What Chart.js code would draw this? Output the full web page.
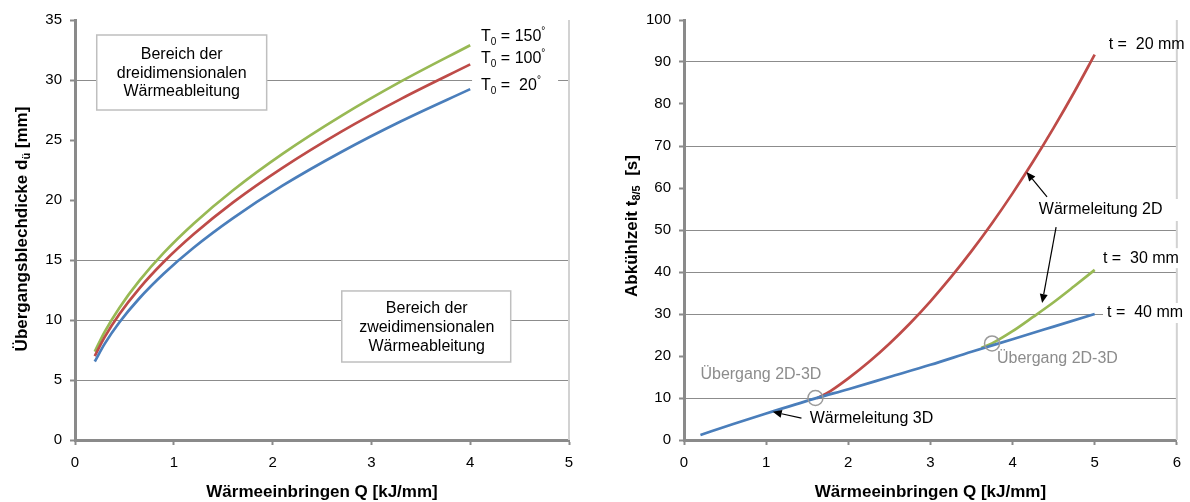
<!DOCTYPE html>
<html>
<head>
<meta charset="utf-8">
<script src="https://cdn.jsdelivr.net/npm/chart.js@4.4.1/dist/chart.umd.min.js"></script>
<style>
  html, body { margin: 0; padding: 0; background: #ffffff; }
  #wrap { position: relative; width: 1190px; height: 502px; }
  #c1 { position: absolute; left: 0; top: 0; }
  #c2 { position: absolute; left: 600px; top: 0; }
</style>
</head>
<body>
<div id="wrap">
  <canvas id="c1" width="600" height="502"></canvas>
  <canvas id="c2" width="590" height="502"></canvas>
</div>
<script>
// ---- Übergangsblechdicke über Wärmeeinbringen (left chart) ----
const qTransition = [0.2, 0.3, 0.45, 0.65, 0.9, 1.2, 1.6, 2.1, 2.7, 3.3, 4.0];
const dT20  = [6.54, 8.01, 9.81, 11.79, 13.87, 16.02, 18.49, 21.19, 24.02, 26.56, 29.24];
const dT100 = [6.99, 8.57, 10.50, 12.62, 14.85, 17.14, 19.80, 22.68, 25.72, 28.43, 31.30];
const dT150 = [7.36, 9.01, 11.03, 13.26, 15.61, 18.02, 20.81, 23.84, 27.03, 29.88, 32.90];

const leftXTicks = [0, 1, 2, 3, 4, 5];
const leftYTicks = [0, 5, 10, 15, 20, 25, 30, 35];
const leftGridAt = [5, 10, 15, 30];

// ---- Abkühlzeit t8/5 über Wärmeeinbringen (right chart) ----
const q40 = [0.2, 0.6, 1.0, 1.6, 2.0, 2.5, 3.0, 3.5, 4.0, 4.5, 5.0];
const t40 = [1.2, 3.8, 6.3, 9.9, 12.1, 15.0, 17.9, 21.0, 24.0, 27.0, 30.0];
const q20 = [1.62, 1.8, 2.0, 2.25, 2.5, 2.75, 3.0, 3.25, 3.5, 3.75, 4.0, 4.25, 4.5, 4.75, 5.0];
const t20 = [9.9, 11.89, 14.68, 18.58, 22.94, 27.75, 33.03, 38.76, 44.96, 51.61, 58.72, 66.29, 74.32, 82.80, 91.75];
const q30 = [3.62, 3.75, 4.0, 4.25, 4.5, 4.75, 5.0];
const t30 = [21.9, 23.0, 25.9, 29.3, 32.8, 36.6, 40.5];

const rightXTicks = [0, 1, 2, 3, 4, 5, 6];
const rightYTicks = [0, 10, 20, 30, 40, 50, 60, 70, 80, 90, 100];
const rightGridAt = [10, 30, 40, 50, 70, 90];

const BLUE = '#4a7ebb', RED = '#be4b48', GREEN = '#98b954';
const AXIS = '#8a8a8a', GRID = '#8c8c8c';
const FONT = '"Liberation Sans", Arial, Helvetica, sans-serif';

const toPoints = (xs, ys) => xs.map((x, i) => ({ x, y: ys[i] }));

function setFont(ctx, size, bold) {
  ctx.font = (bold ? 'bold ' : '') + size + 'px ' + FONT;
}

// draws a sequence of text runs (normal / subscript / superscript)
function drawRuns(ctx, x, y, runs, size, bold, align, color) {
  const pcs = runs.map(r => ({
    t: r.t,
    size: (r.sub || r.sup) ? Math.round(size * 0.62) : size,
    dy: r.sub ? size * 0.3 : (r.sup ? -size * 0.38 : 0)
  }));
  let w = 0;
  pcs.forEach(p => { setFont(ctx, p.size, bold); p.w = ctx.measureText(p.t).width; w += p.w; });
  let cx = align === 'center' ? x - w / 2 : (align === 'right' ? x - w : x);
  ctx.fillStyle = color;
  ctx.textAlign = 'left';
  ctx.textBaseline = 'middle';
  pcs.forEach(p => { setFont(ctx, p.size, bold); ctx.fillText(p.t, cx, y + p.dy); cx += p.w; });
  return w;
}

function arrow(ctx, x0, y0, x1, y1) {
  const ang = Math.atan2(y1 - y0, x1 - x0);
  const head = 9, half = 4;
  const bx = x1 - head * Math.cos(ang), by = y1 - head * Math.sin(ang);
  ctx.strokeStyle = '#000'; ctx.fillStyle = '#000'; ctx.lineWidth = 1.2;
  ctx.beginPath(); ctx.moveTo(x0, y0); ctx.lineTo(bx, by); ctx.stroke();
  ctx.beginPath();
  ctx.moveTo(x1, y1);
  ctx.lineTo(bx + half * Math.sin(ang), by - half * Math.cos(ang));
  ctx.lineTo(bx - half * Math.sin(ang), by + half * Math.cos(ang));
  ctx.closePath(); ctx.fill();
}

// annotation layer: frame line, boxes, labels, arrows, markers, axis titles
const notesPlugin = {
  id: 'notes',
  beforeDatasetsDraw(chart) {
    const { ctx, chartArea: a } = chart;
    ctx.save();
    ctx.strokeStyle = '#d2d2d2'; ctx.lineWidth = 2;
    ctx.beginPath(); ctx.moveTo(a.right, a.top); ctx.lineTo(a.right, a.bottom); ctx.stroke();
    ctx.restore();
  },
  afterDatasetsDraw(chart, args, opts) {
    const { ctx } = chart;
    const sx = v => chart.scales.x.getPixelForValue(v);
    const sy = v => chart.scales.y.getPixelForValue(v);
    ctx.save();
    (opts.items || []).forEach(it => {
      if (it.kind === 'box') {
        const x0 = sx(it.x0), x1 = sx(it.x1), y0 = sy(it.y1), y1 = sy(it.y0);
        ctx.fillStyle = '#fff'; ctx.fillRect(x0, y0, x1 - x0, y1 - y0);
        ctx.strokeStyle = '#bfbfbf'; ctx.lineWidth = 1.5;
        ctx.strokeRect(x0, y0, x1 - x0, y1 - y0);
        it.lines.forEach((ln, i) => drawRuns(ctx, sx(it.cx), sy(it.ly[i]), [{ t: ln }], 16, false, 'center', '#000'));
      } else if (it.kind === 'text') {
        const x = sx(it.x), y = sy(it.y);
        if (it.bg) {
          ctx.fillStyle = '#fff';
          ctx.fillRect(x - it.bg[0], y - it.bg[1], it.bg[2], it.bg[1] * 2);
        }
        drawRuns(ctx, x, y, it.runs, 16, false, 'left', it.color || '#000');
      } else if (it.kind === 'arrow') {
        arrow(ctx, sx(it.from[0]), sy(it.from[1]), sx(it.to[0]), sy(it.to[1]));
      } else if (it.kind === 'ring') {
        ctx.strokeStyle = '#9a9a9a'; ctx.lineWidth = 1.5;
        ctx.beginPath(); ctx.arc(sx(it.at[0]), sy(it.at[1]), 7.5, 0, Math.PI * 2); ctx.stroke();
      }
    });
    ctx.restore();
  },
  afterDraw(chart, args, opts) {
    const { ctx, chartArea: a } = chart;
    ctx.save();
    drawRuns(ctx, (a.left + a.right) / 2, 492, opts.xTitle, 17, true, 'center', '#000');
    ctx.translate(opts.yTitleX, opts.yTitleY);
    ctx.rotate(-Math.PI / 2);
    drawRuns(ctx, 0, 0, opts.yTitle, 17, true, 'center', '#000');
    ctx.restore();
  }
};

function lineSet(label, pts, color) {
  return {
    label, data: pts, borderColor: color, backgroundColor: color,
    borderWidth: 2.7, pointRadius: 0, fill: false, showLine: true,
    cubicInterpolationMode: 'monotone'
  };
}

function scales(xTicks, yTicks, gridAt, yWidth) {
  const tickFont = { family: FONT, size: 15 };
  return {
    x: {
      type: 'linear', min: xTicks[0], max: xTicks[xTicks.length - 1],
      afterBuildTicks: s => { s.ticks = xTicks.map(v => ({ value: v })); },
      afterFit: s => { s.height = 62; },
      grid: { drawOnChartArea: false, drawTicks: true, tickLength: 5, tickColor: AXIS, tickWidth: 2 },
      border: { color: AXIS, width: 3 },
      ticks: { color: '#000', font: tickFont, padding: 9, maxRotation: 0 }
    },
    y: {
      type: 'linear', min: yTicks[0], max: yTicks[yTicks.length - 1],
      afterBuildTicks: s => { s.ticks = yTicks.map(v => ({ value: v })); },
      afterFit: s => { s.width = yWidth; },
      grid: {
        color: c => (c.tick && gridAt.includes(c.tick.value)) ? GRID : 'rgba(0,0,0,0)',
        lineWidth: 1, drawTicks: true, tickLength: 5, tickColor: AXIS, tickWidth: 2
      },
      border: { color: AXIS, width: 3 },
      ticks: { color: '#000', font: tickFont, padding: 8 }
    }
  };
}

Chart.defaults.font.family = FONT;

new Chart(document.getElementById('c1'), {
  type: 'scatter',
  data: {
    datasets: [
      lineSet('T0 = 20°', toPoints(qTransition, dT20), BLUE),
      lineSet('T0 = 100°', toPoints(qTransition, dT100), RED),
      lineSet('T0 = 150°', toPoints(qTransition, dT150), GREEN)
    ]
  },
  options: {
    responsive: false, animation: false, devicePixelRatio: 1,
    layout: { padding: { left: 0, right: 31, top: 20, bottom: 0 } },
    scales: scales(leftXTicks, leftYTicks, leftGridAt, 75),
    plugins: {
      legend: { display: false }, tooltip: { enabled: false },
      notes: {
        yTitleX: 22, yTitleY: 229,
        xTitle: [{ t: 'Wärmeeinbringen Q [kJ/mm]' }],
        yTitle: [{ t: 'Übergangsblechdicke d' }, { t: 'ü', sub: true }, { t: ' [mm]' }],
        items: [
          { kind: 'box', x0: 0.22, x1: 1.94, y0: 27.5, y1: 33.75, cx: 1.08,
            ly: [32.08, 30.5, 29.0], lines: ['Bereich der', 'dreidimensionalen', 'Wärmeableitung'] },
          { kind: 'box', x0: 2.70, x1: 4.41, y0: 6.5, y1: 12.42, cx: 3.56,
            ly: [10.92, 9.33, 7.75], lines: ['Bereich der', 'zweidimensionalen', 'Wärmeableitung'] },
          { kind: 'text', x: 4.11, y: 33.58, runs: [{ t: 'T' }, { t: '0', sub: true }, { t: ' = 150' }, { t: '°', sup: true }] },
          { kind: 'text', x: 4.11, y: 31.75, runs: [{ t: 'T' }, { t: '0', sub: true }, { t: ' = 100' }, { t: '°', sup: true }] },
          { kind: 'text', x: 4.11, y: 29.5, bg: [9, 10, 86],
            runs: [{ t: 'T' }, { t: '0', sub: true }, { t: ' =  20' }, { t: '°', sup: true }] }
        ]
      }
    }
  },
  plugins: [notesPlugin]
});

new Chart(document.getElementById('c2'), {
  type: 'scatter',
  data: {
    datasets: [
      lineSet('t = 40 mm', toPoints(q40, t40), BLUE),
      lineSet('t = 20 mm', toPoints(q20, t20), RED),
      lineSet('t = 30 mm', toPoints(q30, t30), GREEN)
    ]
  },
  options: {
    responsive: false, animation: false, devicePixelRatio: 1,
    layout: { padding: { left: 0, right: 12, top: 20, bottom: 0 } },
    scales: scales(rightXTicks, rightYTicks, rightGridAt, 84),
    plugins: {
      legend: { display: false }, tooltip: { enabled: false },
      notes: {
        yTitleX: 32, yTitleY: 226,
        xTitle: [{ t: 'Wärmeeinbringen Q [kJ/mm]' }],
        yTitle: [{ t: 'Abkühlzeit t' }, { t: '8/5', sub: true }, { t: '  [s]' }],
        items: [
          { kind: 'text', x: 5.17, y: 94.05, runs: [{ t: 't =  20 mm' }] },
          { kind: 'text', x: 4.32, y: 54.76, bg: [6, 11, 150], runs: [{ t: 'Wärmeleitung 2D' }] },
          { kind: 'arrow', from: [4.42, 57.9], to: [4.17, 63.8] },
          { kind: 'arrow', from: [4.53, 50.7], to: [4.36, 32.6] },
          { kind: 'text', x: 5.10, y: 43.3, bg: [4, 10, 90], runs: [{ t: 't =  30 mm' }] },
          { kind: 'text', x: 5.15, y: 30.24, bg: [4, 10, 86], runs: [{ t: 't =  40 mm' }] },
          { kind: 'text', x: 0.2, y: 15.5, color: '#8c8c8c', runs: [{ t: 'Übergang 2D-3D' }] },
          { kind: 'text', x: 3.81, y: 19.5, color: '#8c8c8c', runs: [{ t: 'Übergang 2D-3D' }] },
          { kind: 'text', x: 1.53, y: 5.0, runs: [{ t: 'Wärmeleitung 3D' }] },
          { kind: 'arrow', from: [1.43, 5.2], to: [1.08, 6.7] },
          { kind: 'ring', at: [1.6, 10] },
          { kind: 'ring', at: [3.75, 23] }
        ]
      }
    }
  },
  plugins: [notesPlugin]
});
</script>
</body>
</html>
